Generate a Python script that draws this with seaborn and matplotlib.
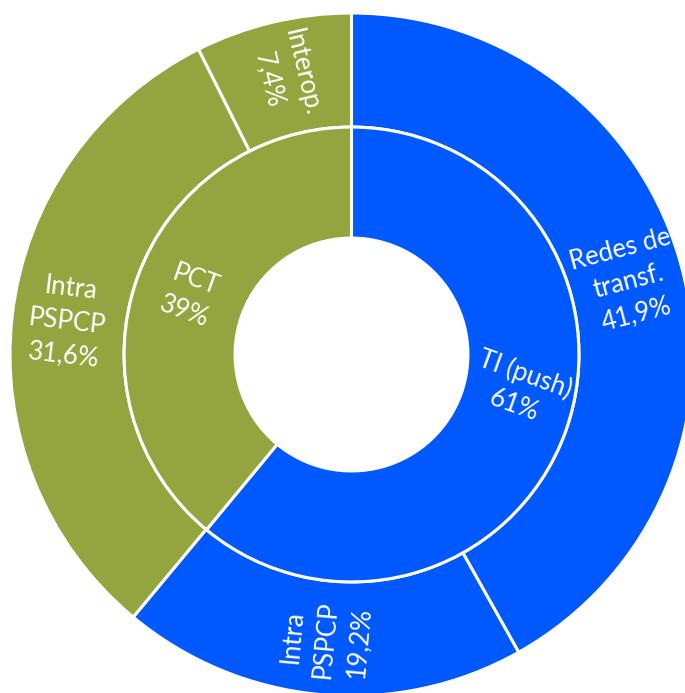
import numpy as np
import matplotlib
matplotlib.use("Agg")
import matplotlib.pyplot as plt
import seaborn as sns

# Inner ring: delivery channel
inner_labels = ["TI (push)", "PCT"]
inner_values = [61, 39]

# Outer ring: breakdown of each channel (parent index into inner ring)
outer_labels = ["Redes de\ntransf.", "Intra\nPSPCP", "Intra\nPSPCP", "Interop."]
outer_values = [41.9, 19.2, 31.6, 7.4]
outer_parent = [0, 0, 1, 1]

sns.set_theme(style="white")
plt.rcParams["font.family"] = ["Lato", "DejaVu Sans"]

palette = ["#0058FF", "#94A43E"]

W, H = 685, 693
fig = plt.figure(figsize=(W / 100, H / 100), dpi=100)
ax = fig.add_axes([0, 0, 1, 1])

r_hole, r_mid, r_out = 0.341, 0.666, 1.0
edge = dict(edgecolor="white", linewidth=2.2)

ax.pie(outer_values, radius=r_out, startangle=90, counterclock=False,
       colors=[palette[p] for p in outer_parent],
       wedgeprops=dict(width=r_out - r_mid, **edge))
ax.pie(inner_values, radius=r_mid, startangle=90, counterclock=False,
       colors=palette,
       wedgeprops=dict(width=r_mid - r_hole, **edge))

# Frame the donut so its centre sits slightly right of the canvas middle
cx, cy, R = 351.5, 354.5, 341.5
ax.set_aspect("auto")
ax.set_xlim(-cx / R, (W - cx) / R)
ax.set_ylim((cy - H) / R, cy / R)
ax.axis("off")


def fmt(v):
    s = f"{v:g}".replace(".", ",")
    return s + "%"


def radial_rotation(deg):
    deg = (deg + 180) % 360 - 180
    if deg > 90:
        deg -= 180
    elif deg <= -90:
        deg += 180
    return deg


def put_labels(labels, values, radius, shifts=None, size=18.5):
    total = float(sum(values))
    start = 0.0
    for i, (lab, v) in enumerate(zip(labels, values)):
        frac_mid = (start + v / 2.0) / total
        start += v
        mid = 90.0 - 360.0 * frac_mid
        rot = radial_rotation(mid)
        pos_ang = mid + (shifts[i] if shifts else 0.0)
        x = radius * np.cos(np.radians(pos_ang))
        y = radius * np.sin(np.radians(pos_ang))
        ax.text(x, y, f"{lab}\n{fmt(v)}", rotation=rot, rotation_mode="anchor",
                ha="center", va="center", color="white", fontsize=size,
                linespacing=1.42, multialignment="center")


put_labels(outer_labels, outer_values, (r_mid + r_out) / 2 + 0.005)
put_labels(inner_labels, inner_values, (r_hole + r_mid) / 2, shifts=[8.0, 0.0])

fig.savefig("out.png", dpi=100, facecolor="white")
